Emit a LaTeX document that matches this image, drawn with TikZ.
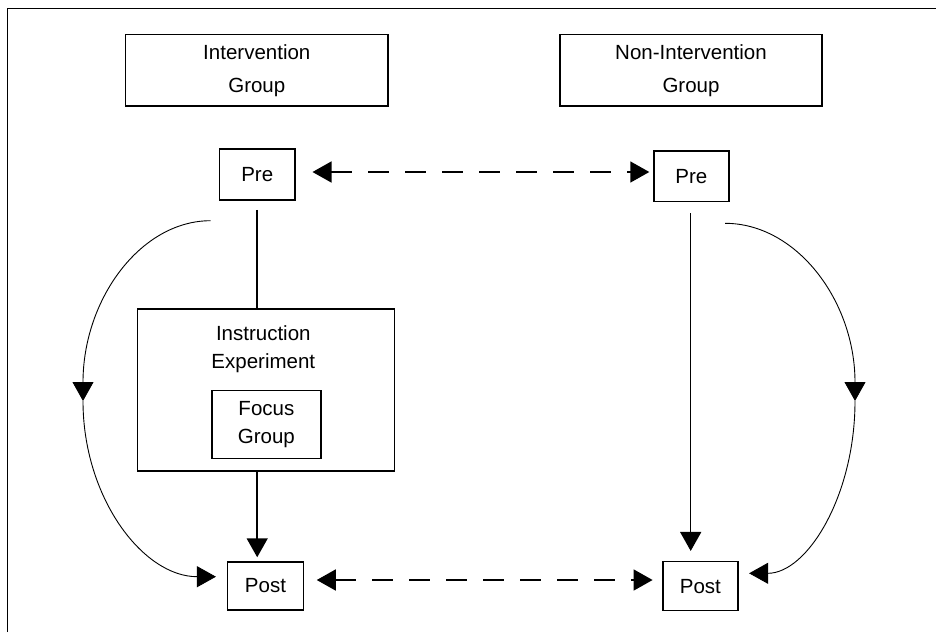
\documentclass[tikz,border=0pt]{standalone}
\usepackage{fontspec}
\setmainfont{Liberation Sans}
\usetikzlibrary{arrows.meta}
\begin{document}
\begin{tikzpicture}[x=1pt,y=-1pt,
  box/.style={draw, line width=1.5pt, inner sep=0pt, align=center, font=\fontsize{20.5}{28.5}\selectfont},
  lbl/.style={inner sep=0pt, align=center, font=\fontsize{20.5}{28.5}\selectfont},
  tip/.style={-{Triangle[length=19pt,width=21pt]}},
  dtip/.style={{Triangle[length=19pt,width=21pt]}-{Triangle[length=19pt,width=21pt]}},
  conn/.style={line width=1.5pt},
  curve/.style={line width=0.9pt},
  dashl/.style={line width=1.5pt, dash pattern=on 21pt off 16pt}]
\useasboundingbox (0,0) rectangle (936,632);
% frame (top and left edges visible)
\coordinate (fbl) at (7,632);
\coordinate (ftl) at (7,8);
\coordinate (ftr) at (936,8);
\draw[line width=1pt] (fbl) -- (ftl) -- (ftr);

% group headers
\node[box, minimum width=262.3pt, minimum height=71.7pt] (ig) at (256.8,70.2) {Intervention\\[4.5pt]Group};
\node[box, minimum width=262pt, minimum height=71.7pt] (ng) at (691,70.2) {Non-Intervention\\[4.5pt]Group};

% pre nodes
\node[box, minimum width=75.7pt, minimum height=51pt] (pre1) at (257.2,174.5) {Pre};
\node[box, minimum width=75.3pt, minimum height=50.7pt] (pre2) at (691.4,176.3) {Pre};

% instruction experiment
\node[box, minimum width=256.6pt, minimum height=162pt] (ie) at (266,390) {};
\node[lbl] (iet) at (263.3,349) {Instruction\\Experiment};
\node[box, minimum width=109.3pt, minimum height=67.6pt] (fg) at (266.4,424.5) {Focus\\Group};

% post nodes
\node[box, minimum width=75.6pt, minimum height=48pt] (post1) at (265.5,586) {Post};
\node[box, minimum width=75.3pt, minimum height=49pt] (post2) at (700.4,586.2) {Post};

% vertical connectors
\draw[conn, shorten <=9pt] (pre1.south) -- (ie.north -| pre1.south);
\draw[conn, tip, shorten >=4pt] (ie.south -| pre1.south) -- (post1.north -| pre1.south);
\draw[conn, tip, shorten <=11pt, shorten >=10pt] (pre2.south -| 690.7,0) -- (post2.north -| 690.7,0);

% dashed double arrows
\draw[dashl, dtip, shorten <=16.7pt, shorten >=3.7pt] ([yshift=2.5pt]pre1.east) -- ([yshift=4.3pt]pre2.west);
\draw[dashl, dtip, shorten <=12.7pt, shorten >=9.4pt] ([yshift=6pt]post1.east) -- ([yshift=6.2pt]post2.west);

% curved arrows, left
\coordinate (ls) at (210.7,220.7);
\coordinate (lm) at (83,401);
\draw[curve, tip] (ls) .. controls (140.2,220.7) and (83,299.8) .. (lm);
\draw[curve, tip] (lm) .. controls (83,497.5) and (142.9,576.7) .. ([xshift=-11pt,yshift=9.3pt]post1.west);

% curved arrows, right
\coordinate (rs) at (725,223.3);
\coordinate (rm) at (855,401);
\draw[curve, tip] (rs) .. controls (796.8,223.3) and (855,301.1) .. (rm);
\draw[curve, tip] (rm) .. controls (855,495.7) and (807.2,573.3) .. ([xshift=10.3pt,yshift=12.9pt]post2.east);
\end{tikzpicture}
\end{document}
